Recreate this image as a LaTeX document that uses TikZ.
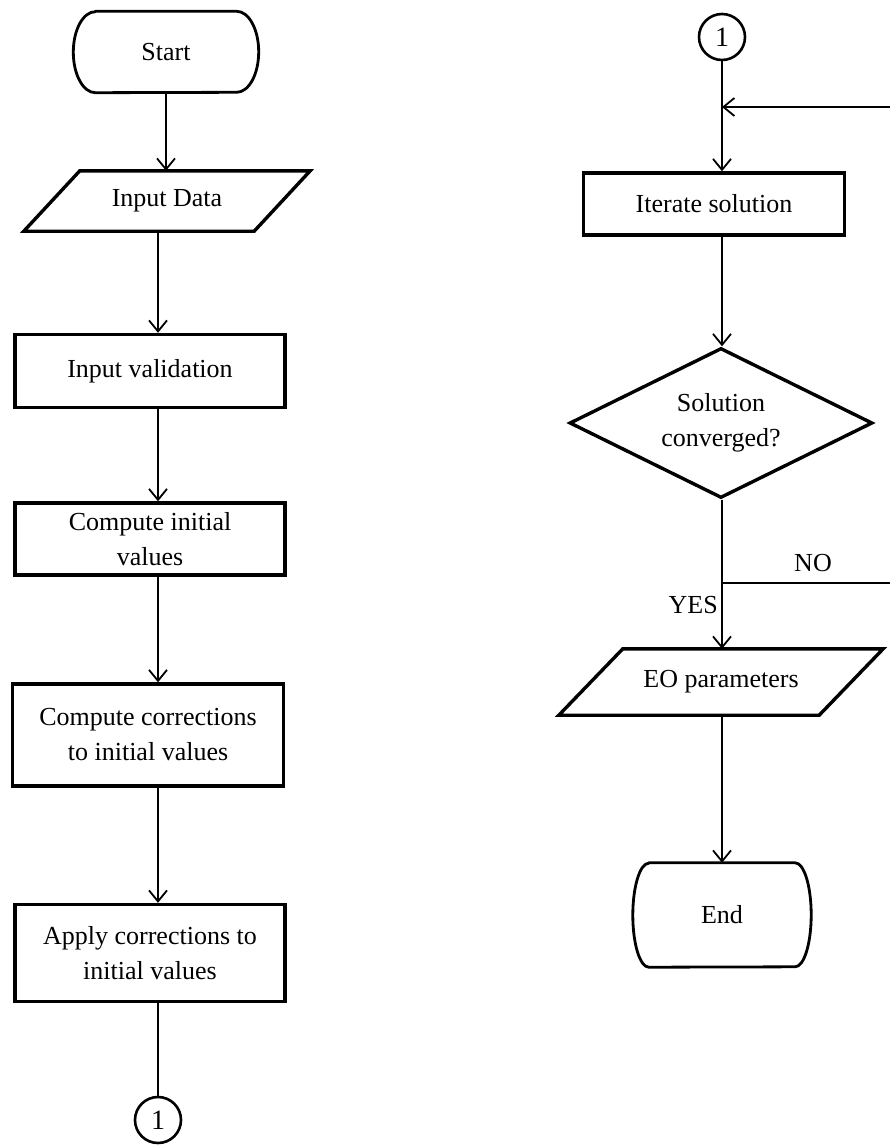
\documentclass[tikz,border=0pt]{standalone}
\usepackage{fontspec}
\setmainfont{Liberation Serif}
\usetikzlibrary{arrows.meta,shapes.geometric,positioning}

\begin{document}
\begin{tikzpicture}[x=1pt,y=-1pt,
	every node/.style={font=\fontsize{26}{35}\selectfont,align=center,inner sep=0pt},
	box/.style={draw,line width=3.4pt,rectangle,minimum width=270pt},
	term/.style={rectangle},
	termedge/.style={line width=2.8pt,line join=round},
	io/.style={rectangle},
	ioedge/.style={line width=3.4pt,line join=miter},
	conn/.style={draw,line width=2.6pt,circle,minimum size=46pt,font=\fontsize{28}{30}\selectfont},
	dec/.style={draw,line width=3.4pt,diamond,aspect=2,minimum width=303pt,minimum height=150pt},
	arr/.style={line width=1.8pt,-{Straight Barb[length=11pt,width=18pt,line width=1.8pt]}},
	link/.style={line width=1.8pt}]
	\useasboundingbox (0,0) rectangle (890,1145);
	% terminal outline with elliptic ends: node, x radius, y radius
	\def\termline#1#2#3{
		\draw[termedge] ([xshift=#2]#1.north west) -- ([xshift=-#2]#1.north east)
			arc[start angle=90,end angle=-90,x radius=#2,y radius=#3]
			-- ([xshift=#2]#1.south west)
			arc[start angle=-90,end angle=-270,x radius=#2,y radius=#3] -- cycle;
	}
	% data outline leaning right: node, slant
	\def\ioline#1#2{
		\draw[ioedge] ([xshift=#2]#1.north west) -- (#1.north east)
			-- ([xshift=-#2]#1.south east) -- (#1.south west) -- cycle;
	}
	% left column
	\node[term,minimum width=185pt,minimum height=81pt] (start) at (166,52) {Start};
	\termline{start}{22pt}{40.5pt}
	\node[io,minimum width=286pt,minimum height=60pt] (data) at (167,201) {Input Data};
	\ioline{data}{56pt}
	\node[box,minimum height=73pt] (valid) at (150,371) {Input validation};
	\node[box,minimum height=72pt] (init) at (150,539) {Compute initial\\values};
	\node[box,minimum width=271pt,minimum height=102pt] (corr) at (148,735) {Compute corrections\\to initial values};
	\node[box,minimum height=97pt] (apply) at (150,953) {Apply corrections to\\initial values};
	\node[conn] (conL) at (158,1120) {1};
	\draw[arr] (start) -- (start |- data.north);
	\draw[arr] (data.south -| conL) -- (valid.north -| conL);
	\draw[arr] (valid.south -| conL) -- (init.north -| conL);
	\draw[arr] (init.south -| conL) -- (corr.north -| conL);
	\draw[arr] (corr.south -| conL) -- (apply.north -| conL);
	\draw[link] (apply.south -| conL) -- (conL);
	% right column
	\node[conn] (conR) at (722,37) {1};
	\node[box,minimum width=261pt,minimum height=62pt] (iter) at (714,204) {Iterate solution};
	\node[dec] (conv) at (721,423) {Solution\\converged?};
	\node[io,minimum width=324pt,minimum height=66pt] (eo) at (721,682) {EO parameters};
	\ioline{eo}{64pt}
	\node[term,minimum width=178pt,minimum height=104pt] (finish) at (722,915) {End};
	\termline{finish}{16pt}{52pt}
	\coordinate (loopin) at (890,107);
	\coordinate (noout) at (890,583);
	\draw[arr] (conR) -- (iter.north -| conR);
	\draw[arr] (loopin) -- (loopin -| conR);
	\draw[arr] (iter.south -| conR) -- (conv.north -| conR);
	\draw[arr] (conv.south -| conR) -- (eo.north -| conR);
	\draw[link] (noout -| conR) -- (noout);
	\draw[arr] (eo.south -| conR) -- (finish.north -| conR);
	\node[anchor=east] (yes) at (718,605) {YES};
	\node (no) at (813,563) {NO};
\end{tikzpicture}
\end{document}
